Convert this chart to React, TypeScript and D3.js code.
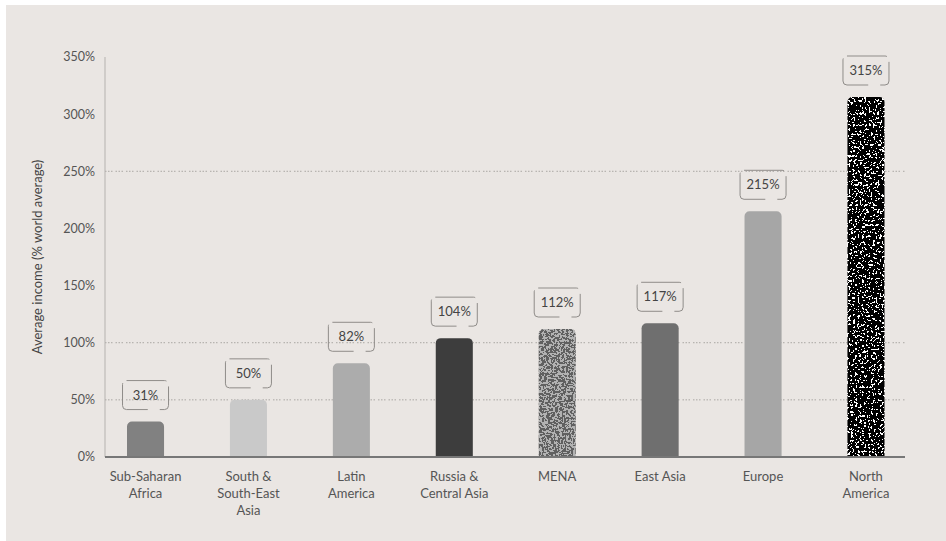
import React from "react";
import * as d3 from "d3";

const categories = [
  "Sub-Saharan Africa",
  "South & South-East Asia",
  "Latin America",
  "Russia & Central Asia",
  "MENA",
  "East Asia",
  "Europe",
  "North America",
];
const categoryLines = [
  ["Sub-Saharan", "Africa"],
  ["South &", "South-East", "Asia"],
  ["Latin", "America"],
  ["Russia &", "Central Asia"],
  ["MENA"],
  ["East Asia"],
  ["Europe"],
  ["North", "America"],
];
const values = [31, 50, 82, 104, 112, 117, 215, 315];
const yTicks = [0, 50, 100, 150, 200, 250, 300, 350];
const gridValues = [50, 100, 250];
const barFills = [
  "#818181",
  "#c9c9c9",
  "#acacac",
  "#3d3d3d",
  "#000",
  "#6f6f6f",
  "#a6a6a6",
  "#000",
];
const filters = [null, null, null, null, "url(#fMENA)", null, null, "url(#fNA)"];

const W = 946;
const H = 541;
const FONT = "Lato, 'Open Sans', sans-serif";

function topRounded(x: number, y: number, w: number, h: number, r: number) {
  const p = d3.path();
  p.moveTo(x, y + h);
  p.lineTo(x, y + r);
  p.arcTo(x, y, x + r, y, r);
  p.lineTo(x + w - r, y);
  p.arcTo(x + w, y, x + w, y + r, r);
  p.lineTo(x + w, y + h);
  p.closePath();
  return p.toString();
}

const GRAY =
  "0.33 0.33 0.33 0 0  0.33 0.33 0.33 0 0  0.33 0.33 0.33 0 0  0 0 0 0 1";

export default function App() {
  const x = d3
    .scaleBand<string>()
    .domain(categories)
    .range([127, 884.5])
    .paddingInner(0.64)
    .paddingOuter(0);
  const y = d3.scaleLinear().domain([0, 350]).range([457, 57]);
  const bw = x.bandwidth();
  const axisLeft = 105;
  const axisRight = 905;

  return (
    <svg
      width={W}
      height={H}
      style={{ position: "absolute", left: 0, top: 0, fontFamily: FONT }}
    >
      <defs>
        <filter id="fNA" x="0" y="0" width="1" height="1" filterUnits="objectBoundingBox">
          <feTurbulence type="fractalNoise" baseFrequency="0.45" numOctaves="3" seed="7" result="t" />
          <feColorMatrix in="t" type="matrix" values={GRAY} result="g" />
          <feComponentTransfer in="g" result="bw">
            <feFuncR type="discrete" tableValues="0 0 0 0 0 0 0 0 0 0 0 1 1 1 1 1 1 1 1 1" />
            <feFuncG type="discrete" tableValues="0 0 0 0 0 0 0 0 0 0 0 1 1 1 1 1 1 1 1 1" />
            <feFuncB type="discrete" tableValues="0 0 0 0 0 0 0 0 0 0 0 1 1 1 1 1 1 1 1 1" />
          </feComponentTransfer>
          <feComposite in="bw" in2="SourceGraphic" operator="in" />
        </filter>
        <filter id="fMENA" x="0" y="0" width="1" height="1" filterUnits="objectBoundingBox">
          <feTurbulence type="fractalNoise" baseFrequency="0.45" numOctaves="3" seed="3" result="t" />
          <feColorMatrix in="t" type="matrix" values={GRAY} result="g" />
          <feComponentTransfer in="g" result="bw">
            <feFuncR type="discrete" tableValues="0.05 0.12 0.45 0.62" />
            <feFuncG type="discrete" tableValues="0.05 0.12 0.45 0.62" />
            <feFuncB type="discrete" tableValues="0.05 0.12 0.45 0.62" />
          </feComponentTransfer>
          <feComposite in="bw" in2="SourceGraphic" operator="in" />
        </filter>
      </defs>

      <rect x={6} y={5} width={W - 6} height={H - 5} fill="#eae6e3" />

      {/* grid lines */}
      {gridValues.map((v) => (
        <line
          key={v}
          x1={axisLeft}
          x2={axisRight}
          y1={y(v)}
          y2={y(v)}
          stroke="#aaa7a4"
          strokeWidth={1}
          strokeDasharray="1.5 1.5 1.5 1.5 1.5 3"
        />
      ))}

      {/* y axis line */}
      <line x1={axisLeft} x2={axisLeft} y1={y(350)} y2={y(0)} stroke="#b5b2af" strokeWidth={1} />

      {/* y tick labels */}
      {yTicks.map((t) => (
        <text
          key={t}
          x={95}
          y={y(t)}
          dy="0.35em"
          textAnchor="end"
          fontSize={12.5}
          fill="#555"
        >
          {t}%
        </text>
      ))}

      <text
        transform={`translate(37, ${y(175)}) rotate(-90)`}
        textAnchor="middle"
        dy="0.35em"
        fontSize={13}
        fill="#444"
      >
        Average income (% world average)
      </text>

      {/* bars */}
      {categories.map((c, i) => {
        const x0 = x(c)!;
        const top = y(values[i]);
        return (
          <path
            key={c}
            d={topRounded(x0, top, bw, y(0) - top, 5)}
            fill={barFills[i]}
            filter={filters[i] || undefined}
          />
        );
      })}

      {/* x axis baseline */}
      <line x1={axisLeft} x2={axisRight} y1={y(0)} y2={y(0)} stroke="#777" strokeWidth={2} />

      {/* value label boxes */}
      {categories.map((c, i) => {
        const cx = x(c)! + bw / 2;
        const top = y(values[i]);
        const bh = 29;
        const bwid = 46;
        const by = top - 12 - bh;
        return (
          <g key={c + "lab"}>
            <rect
              x={cx - bwid / 2}
              y={by}
              width={bwid}
              height={bh}
              rx={4}
              fill="none"
              stroke="#8f8c89"
              strokeWidth={1}
              strokeDasharray="40 6 30 12 50 8"
            />
            <text
              x={cx}
              y={by + bh / 2}
              dy="0.35em"
              textAnchor="middle"
              fontSize={13}
              fill="#444"
            >
              {values[i]}%
            </text>
          </g>
        );
      })}

      {/* category labels */}
      {categories.map((c, i) => {
        const cx = x(c)! + bw / 2;
        return (
          <text key={c + "cat"} textAnchor="middle" fontSize={13} fill="#555">
            {categoryLines[i].map((ln, j) => (
              <tspan key={j} x={cx} y={481 + j * 17}>
                {ln}
              </tspan>
            ))}
          </text>
        );
      })}
    </svg>
  );
}
